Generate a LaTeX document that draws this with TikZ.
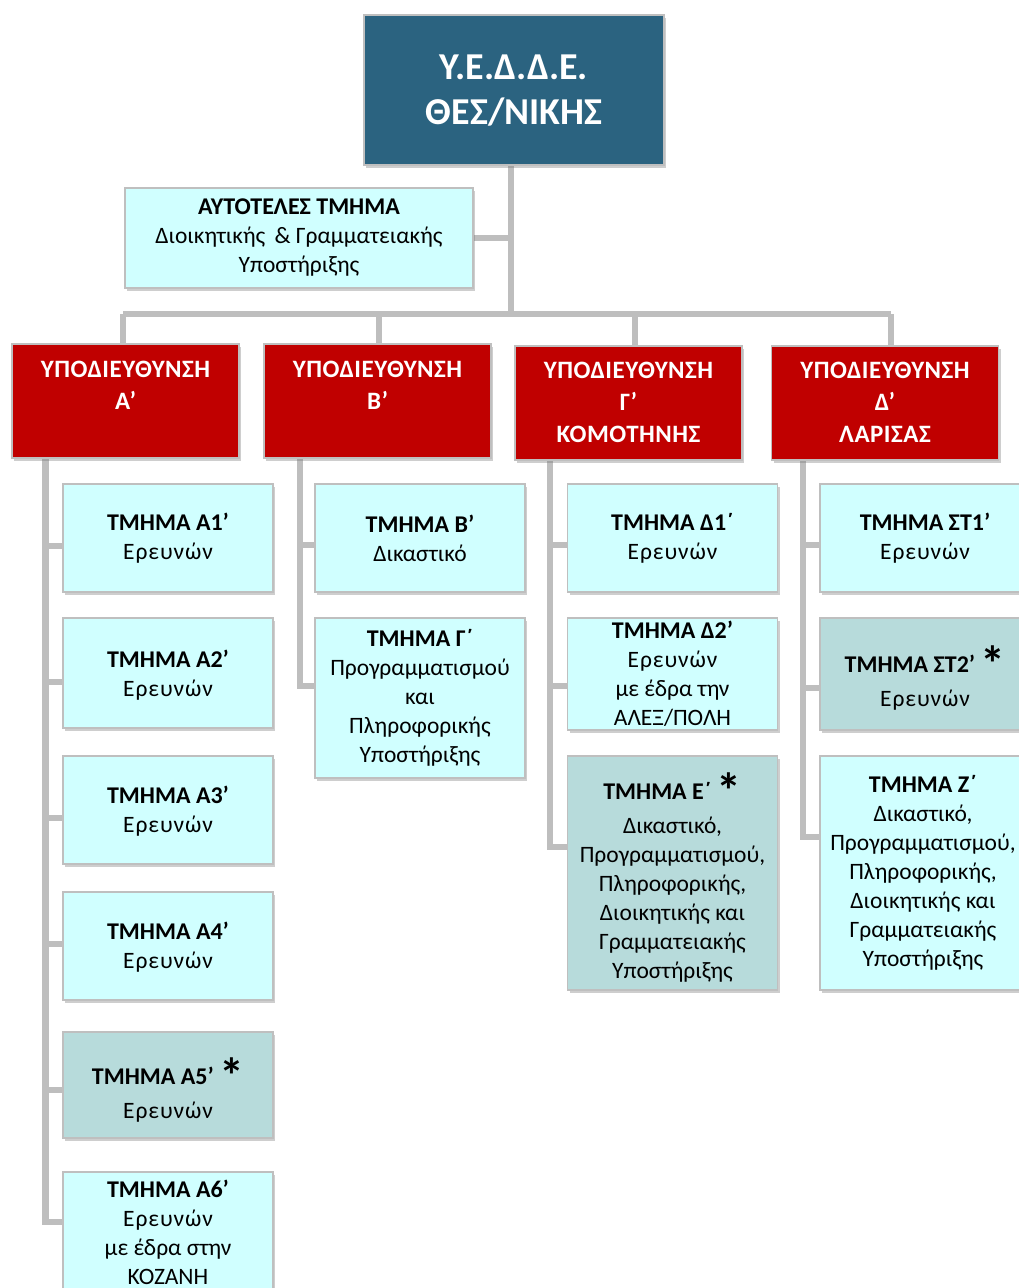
\documentclass[tikz,border=0pt]{standalone}
\usepackage{fontspec}
\setmainfont{Carlito}
\usetikzlibrary{shadows}
\pgfdeclarelayer{background}
\pgfsetlayers{background,main}
\definecolor{topblue}{HTML}{2B6380}
\definecolor{subred}{HTML}{C00000}
\definecolor{lightcyan}{HTML}{D0FFFF}
\definecolor{tealgray}{HTML}{B7DBDB}
\definecolor{boxline}{HTML}{BFBFBF}
\definecolor{linegray}{HTML}{BEBEBE}
\newcommand\spc[1]{{\addfontfeature{LetterSpace=4}#1}}
\newcommand\ttl[1]{{\fontsize{24}{29}\selectfont\bfseries #1}}
\newcommand\astmark{\raisebox{-9pt}[0pt][0pt]{\fontsize{50}{50}\selectfont\bfseries *}}
\begin{document}
\begin{tikzpicture}[x=1pt,y=-1pt,
  box/.style={draw=boxline, line width=1.3pt, rectangle, inner sep=0pt,
    drop shadow={shadow xshift=2pt,shadow yshift=-3pt,opacity=0.35,fill=black!55}},
  cbox/.style={box, fill=lightcyan, minimum width=210pt},
  tbox/.style={box, fill=tealgray, minimum width=210pt},
  rbox/.style={box, fill=subred, minimum width=227pt, minimum height=114pt},
  conn/.style={draw=linegray, line width=6.5pt},
  txt/.style={align=center, inner sep=0pt, font=\fontsize{23.5}{29}\selectfont},
  rtxt/.style={align=center, inner sep=0pt, text=white, font=\bfseries\fontsize{25}{32}\selectfont\addfontfeature{LetterSpace=2}}]
\useasboundingbox (0,0) rectangle (1018,1288);

% top
\node[box, fill=topblue, minimum width=300pt, minimum height=150pt] (top) at (514,90) {};
\node[align=center, inner sep=0pt, text=white, font=\bfseries\fontsize{38}{45}\selectfont] (topt) at (514,91) {Υ.Ε.Δ.Δ.Ε.\\ΘΕΣ/ΝΙΚΗΣ};

\node[box, fill=lightcyan, minimum width=348pt, minimum height=100pt] (aut) at (299,238) {};
\node[txt] (autt) at (299,238) {\ttl{ΑΥΤΟΤΕΛΕΣ ΤΜΗΜΑ}\\Διοικητικής \,\& Γραμματειακής\\Υποστήριξης};

% sub-directorates
\node[rbox] (subA) at (125.5,401) {};
\node[rtxt] (subAt) at (125.5,385) {ΥΠΟΔΙΕΥΘΥΝΣΗ\\Α’};
\node[rbox] (subB) at (377.5,401) {};
\node[rtxt] (subBt) at (377.5,385) {ΥΠΟΔΙΕΥΘΥΝΣΗ\\Β’};
\node[rbox] (subC) at (628.5,403) {};
\node[rtxt] (subCt) at (628.5,402) {ΥΠΟΔΙΕΥΘΥΝΣΗ\\Γ’\\ΚΟΜΟΤΗΝΗΣ};
\node[rbox] (subD) at (885,403) {};
\node[rtxt] (subDt) at (885,402) {ΥΠΟΔΙΕΥΘΥΝΣΗ\\Δ’\\ΛΑΡΙΣΑΣ};

% column A
\node[cbox, minimum height=108pt] (a1) at (168,538) {};
\node[txt] (a1t) at (168,538) {\ttl{ΤΜΗΜΑ Α1’}\\\spc{Ερευνών}};
\node[cbox, minimum height=110pt] (a2) at (168,673) {};
\node[txt] (a2t) at (168,675) {\ttl{ΤΜΗΜΑ Α2’}\\\spc{Ερευνών}};
\node[cbox, minimum height=108pt] (a3) at (168,810) {};
\node[txt] (a3t) at (168,811) {\ttl{ΤΜΗΜΑ Α3’}\\\spc{Ερευνών}};
\node[cbox, minimum height=108pt] (a4) at (168,946) {};
\node[txt] (a4t) at (168,947) {\ttl{ΤΜΗΜΑ Α4’}\\\spc{Ερευνών}};
\node[tbox, minimum height=106pt] (a5) at (168,1085) {};
\node[txt] (a5t) at (168,1095) {\ttl{ΤΜΗΜΑ Α5’} \astmark\\[5pt]\spc{Ερευνών}};
\node[cbox, minimum height=128pt] (a6) at (168,1236) {};
\node[txt] (a6t) at (168,1232) {\ttl{ΤΜΗΜΑ Α6’}\\\spc{Ερευνών}\\με έδρα στην\\ΚΟΖΑΝΗ};

% column B
\node[cbox, minimum height=108pt] (b1) at (420,538) {};
\node[txt] (b1t) at (420,538) {\ttl{ΤΜΗΜΑ Β’}\\Δικαστικό};
\node[cbox, minimum height=160pt] (b2) at (420,698) {};
\node[txt] (b2t) at (420,698) {\ttl{ΤΜΗΜΑ Γ΄}\\Προγραμματισμού\\και\\Πληροφορικής\\Υποστήριξης};

% column C
\node[cbox, minimum height=108pt] (c1) at (672.5,538) {};
\node[txt] (c1t) at (672.5,538) {\ttl{ΤΜΗΜΑ Δ1΄}\\\spc{Ερευνών}};
\node[cbox, minimum height=112pt] (c2) at (672.5,674) {};
\node[txt] (c2t) at (672.5,674) {\ttl{ΤΜΗΜΑ Δ2’}\\\spc{Ερευνών}\\με έδρα την\\ΑΛΕΞ/ΠΟΛΗ};
\node[tbox, minimum height=234pt] (c3) at (672.5,873) {};
\node[txt] (c3t) at (672.5,882) {\ttl{ΤΜΗΜΑ Ε΄} \astmark\\[5pt]Δικαστικό,\\Προγραμματισμού,\\Πληροφορικής,\\Διοικητικής και\\Γραμματειακής\\Υποστήριξης};

% column D
\node[cbox, minimum height=108pt] (d1) at (925,538) {};
\node[txt] (d1t) at (925,538) {\ttl{ΤΜΗΜΑ ΣΤ1’}\\\spc{Ερευνών}};
\node[tbox, minimum height=112pt] (d2) at (925,674) {};
\node[txt] (d2t) at (925,683) {\ttl{ΤΜΗΜΑ ΣΤ2’} \astmark\\[5pt]\spc{Ερευνών}};
\node[cbox, minimum height=234pt] (d3) at (925,873) {};
\node[txt] (d3t) at (923,873) {\ttl{ΤΜΗΜΑ Ζ΄}\\Δικαστικό,\\Προγραμματισμού,\\Πληροφορικής,\\Διοικητικής και\\Γραμματειακής\\Υποστήριξης};

% connectors
\coordinate (hub) at (511,314);
\coordinate (barA) at (123,314);
\coordinate (barB) at (379,314);
\coordinate (barC) at (635,314);
\coordinate (barD) at (891,314);
\coordinate (sA) at (45.5,458);
\coordinate (sB) at (300,458);
\coordinate (sC) at (550,460);
\coordinate (sD) at (803,460);
\begin{pgfonlayer}{background}
\draw[conn] (hub) -- (hub |- top.south);
\draw[conn] (aut.east) -- (aut.east -| hub);
\draw[conn] (barA) -- (barD);
\draw[conn] (barA) -- (barA |- subA.north);
\draw[conn] (barB) -- (barB |- subB.north);
\draw[conn] (barC) -- (barC |- subC.north);
\draw[conn] (barD) -- (barD |- subD.north);
\draw[conn] (sA) |- ([yshift=-8pt]a1.west);
\draw[conn] (sA) |- ([yshift=-9pt]a2.west);
\draw[conn] (sA) |- ([yshift=-8pt]a3.west);
\draw[conn] (sA) |- ([yshift=2pt]a4.west);
\draw[conn] (sA) |- ([yshift=-5pt]a5.west);
\draw[conn] (sA) |- ([yshift=14pt]a6.west);
\draw[conn] (sB) |- ([yshift=-7pt]b1.west);
\draw[conn] (sB) |- ([yshift=12pt]b2.west);
\draw[conn] (sC) |- ([yshift=-7pt]c1.west);
\draw[conn] (sC) |- ([yshift=-12pt]c2.west);
\draw[conn] (sC) |- ([yshift=26pt]c3.west);
\draw[conn] (sD) |- ([yshift=-7pt]d1.west);
\draw[conn] (sD) |- ([yshift=-14pt]d2.west);
\draw[conn] (sD) |- ([yshift=36pt]d3.west);
\end{pgfonlayer}
\end{tikzpicture}
\end{document}
